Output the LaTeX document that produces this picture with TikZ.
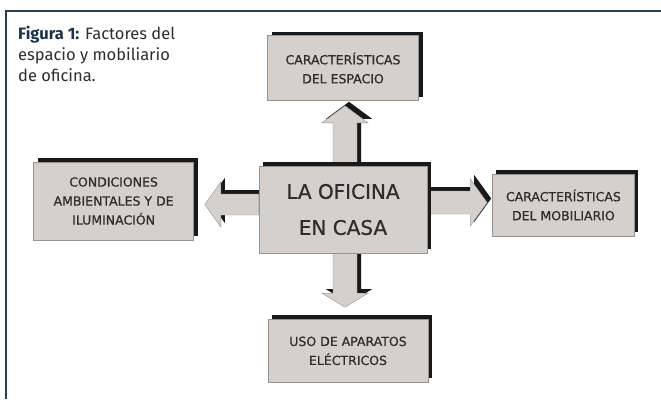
\documentclass[tikz,border=0pt]{standalone}
\usepackage{fontspec}
\setmainfont{Fira Sans}
\newfontfamily\boxfont[FakeBold=0.7]{DejaVu Sans}
\usetikzlibrary{backgrounds}
\usetikzlibrary{positioning,shadows}

\definecolor{boxgray}{RGB}{212,208,205}
\definecolor{edgegray}{RGB}{150,148,146}
\definecolor{framecol}{RGB}{38,62,78}
\definecolor{inkgray}{RGB}{45,45,45}
\definecolor{capblue}{RGB}{30,50,70}

\tikzset{
    shadowed/.style={drop shadow={shadow xshift=4pt,shadow yshift=4pt,
        fill=black!90,opacity=1}},
    factor/.style={shadowed, draw=edgegray, fill=boxgray, align=center,
        inner sep=0pt, text=inkgray,
        font=\boxfont\fontsize{12.5}{19}\selectfont},
    blockarrow/.style={shadowed, draw=edgegray, fill=boxgray},
}

\begin{document}
\begin{tikzpicture}[x=1pt, y=1pt, node distance=65pt]
    \useasboundingbox (0,0) rectangle (661,-399);
    \draw[framecol, line width=2pt] (6,-399) -- (6,-11) -- (661,-11);

    \node[anchor=north west, align=left, inner sep=0pt, text=inkgray,
        font=\fontsize{16.5}{21}\selectfont] (caption) at (18,-26)
        {\textbf{\color{capblue}Figura 1:} Factores del\\
         espacio y mobiliario\\de oficina.};

    \node[factor, minimum width=168pt, minimum height=87pt,
        font=\boxfont\fontsize{20}{36}\selectfont] (casa) at (343,-209.5)
        {LA OFICINA\\EN CASA};
    \node[factor, minimum width=151pt, minimum height=65pt,
        above=of casa] (espacio) {CARACTERÍSTICAS\\DEL ESPACIO};
    \node[factor, minimum width=160pt, minimum height=78pt,
        left=of casa, yshift=8.5pt] (condiciones)
        {CONDICIONES\\AMBIENTALES Y DE\\ILUMINACIÓN};
    \node[factor, minimum width=142pt, minimum height=62pt,
        right=of casa, yshift=4.5pt] (mobiliario)
        {CARACTERÍSTICAS\\DEL MOBILIARIO};
    \node[factor, minimum width=160pt, minimum height=63pt,
        below=66pt of casa, xshift=5pt] (aparatos)
        {USO DE APARATOS\\ELÉCTRICOS};

    \begin{scope}[on background layer]
        \fill[white] (0,0) rectangle (661,-399);
        % left
        \filldraw[blockarrow] ([yshift=5pt]casa.west)
            ++(0,-10.5) -- ++(-38,0) -- ++(0,-12)
            -- ++(-16,22.5) -- ++(16,22.5) -- ++(0,-12)
            -- ++(38,0) -- cycle;
        % right
        \filldraw[blockarrow] ([yshift=7pt]casa.east)
            ++(0,-11.5) -- ++(43,0) -- ++(0,-12)
            -- ++(17,23.5) -- ++(-17,23.5) -- ++(0,-12)
            -- ++(-43,0) -- cycle;
        % up
        \filldraw[blockarrow] ([xshift=2pt]casa.north)
            ++(-12,0) -- ++(0,43) -- ++(-11,0)
            -- ++(23,17) -- ++(23,-17) -- ++(-11,0)
            -- ++(0,-43) -- cycle;
        % down
        \filldraw[blockarrow] ([xshift=2pt]casa.south)
            ++(-12,0) -- ++(0,-40) -- ++(-11,0)
            -- ++(23,-14) -- ++(23,14) -- ++(-11,0)
            -- ++(0,40) -- cycle;
    \end{scope}
\end{tikzpicture}
\end{document}
